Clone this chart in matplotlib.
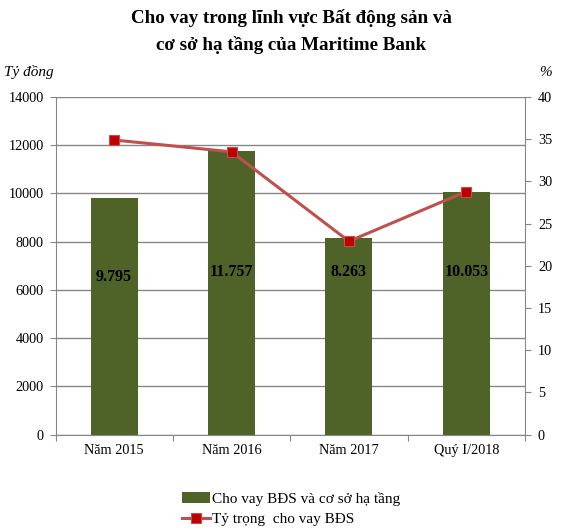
import matplotlib
matplotlib.use("Agg")
import matplotlib.pyplot as plt
import numpy as np

categories = ["Năm 2015", "Năm 2016", "Năm 2017", "Quý I/2018"]
loans = [9810, 11760, 8150, 10059]
loan_labels = ["9.795", "11.757", "8.263", "10.053"]
share = [34.9, 33.5, 22.9, 28.8]
label_y = [6530, 6740, 6740, 6740]

plt.rcParams['font.family'] = ['Liberation Serif', 'DejaVu Serif']
grey = "#868686"

W, H = 569, 532
L, R, T, B = 55.5, 525, 97, 434.5
fig = plt.figure(figsize=(W/100, H/100), dpi=100)
ax = fig.add_axes([L/W, 1-B/H, (R-L)/W, (B-T)/H])
x = np.arange(len(categories))

ax.set_axisbelow(True)
ax.yaxis.grid(True, color=grey, linewidth=1)
bars = ax.bar(x, loans, width=0.40, color="#4F6228", zorder=2,
              label="Cho vay BĐS và cơ sở hạ tầng")
for xi, yi, t in zip(x, label_y, loan_labels):
    ax.text(xi, yi, t, ha="center", va="center", fontsize=11.5, fontweight="bold", zorder=5)

ax.set_xlim(-0.5, 3.5)
ax.set_ylim(0, 14000)
ax.set_yticks(np.arange(0, 14001, 2000))
ax.set_xticks(np.arange(-0.5, 3.6, 1))
ax.set_xticklabels([])
ax.set_xticks(x, minor=True)
ax.set_xticklabels(categories, minor=True)
ax.tick_params(axis="x", which="minor", length=0, pad=7, labelsize=10.3)
ax.tick_params(axis="x", which="major", length=4.3, color=grey, direction="out")
ax.tick_params(axis="y", length=4.3, color=grey, labelsize=10.3, pad=4.3)
for s in ["top", "right"]:
    ax.spines[s].set_visible(False)
for s in ["left", "bottom"]:
    ax.spines[s].set_color(grey)

ax2 = ax.twinx()
line, = ax2.plot(x, share, color="#C0504D", linewidth=2.2, marker="s", markersize=7,
                 markerfacecolor="#C00000", markeredgecolor="#C0504D", markeredgewidth=0.8,
                 label="Tỷ trọng  cho vay BĐS", zorder=4)
ax2.set_ylim(0, 40)
ax2.set_yticks(np.arange(0, 41, 5))
ax2.tick_params(axis="y", length=4.3, color=grey, labelsize=10.3, pad=5)
for s in ["top", "left", "bottom"]:
    ax2.spines[s].set_visible(False)
ax2.spines["right"].set_color(grey)
ax.set_zorder(1)
ax2.set_zorder(2)
ax2.patch.set_visible(False)

fig.text(291/W, 1-18/H, "Cho vay trong lĩnh vực Bất động sản và", ha="center", va="center",
         fontsize=13.7, fontweight="bold")
fig.text(291/W, 1-45/H, "cơ sở hạ tầng của Maritime Bank", ha="center", va="center",
         fontsize=13.7, fontweight="bold")
fig.text(4/W, 1-72/H, "Tỷ đồng", ha="left", va="center", fontsize=11, style="italic")
fig.text(545/W, 1-72/H, "%", ha="center", va="center", fontsize=11, style="italic")

fig.legend([bars, line], ["Cho vay BĐS và cơ sở hạ tầng", "Tỷ trọng  cho vay BĐS"],
           loc="center left", bbox_to_anchor=(182/W, 1-509/H), frameon=False,
           fontsize=11, handlelength=1.8, handletextpad=0.15, labelspacing=0.45,
           borderaxespad=0, borderpad=0)

fig.savefig("out.png", dpi=100)
